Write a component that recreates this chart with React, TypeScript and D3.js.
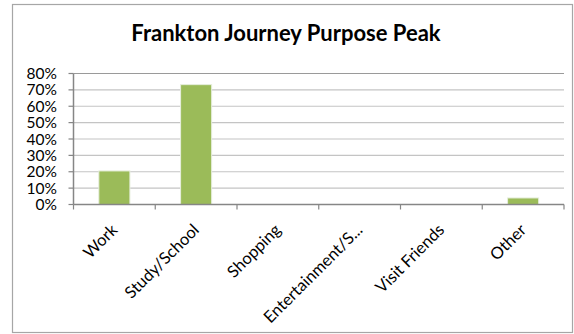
import React from "react";
import * as d3 from "d3";

const categories = ["Work", "Study/School", "Shopping", "Entertainment/S...", "Visit Friends", "Other"];
const values = [0.205, 0.732, 0, 0, 0, 0.04];
const yTicks = [0, 0.1, 0.2, 0.3, 0.4, 0.5, 0.6, 0.7, 0.8];
const title = "Frankton Journey Purpose Peak";

const W = 574;
const H = 334;
const FONT = "Lato, 'Open Sans', sans-serif";

export default function App() {
  const x = d3.scaleBand<string>().domain(categories).range([73.5, 564]).padding(0);
  const y = d3.scaleLinear().domain([0, 0.8]).range([204.5, 73.5]);
  const barW = x.step() * 0.38;
  const fmt = d3.format(".0%");
  const x0 = x.range()[0];
  const x1 = x.range()[1];

  return (
    <svg
      width={W}
      height={H}
      style={{ position: "absolute", left: 0, top: 0, background: "#fff" }}
      fontFamily={FONT}
    >
      <rect x={12.5} y={4.5} width={560} height={328} fill="#fff" stroke="#a6a6a6" strokeWidth={1.2} />
      <text x={286} y={41} textAnchor="middle" fontSize={22} fontWeight="bold" fill="#000">
        {title}
      </text>
      {yTicks.map((t) => (
        <g key={t}>
          {t > 0 && (
            <line x1={x0} x2={x1} y1={y(t)} y2={y(t)} stroke={t === 0.8 ? "#9a9a9a" : "#c4c4c4"} strokeWidth={1.2} />
          )}
          <line x1={x0 - 5} x2={x0} y1={y(t)} y2={y(t)} stroke="#868686" strokeWidth={1.2} />
          <text x={57} y={y(t)} dy="0.36em" textAnchor="end" fontSize={15.5} fill="#000">
            {fmt(t)}
          </text>
        </g>
      ))}
      {categories.map((c, i) => (
        <rect
          key={c}
          x={(x(c) as number) + x.step() / 2 - barW / 2}
          y={y(values[i])}
          width={barW}
          height={y(0) - y(values[i])}
          fill="#9bbb59"
          stroke="#e6eedd"
          strokeWidth={1}
        />
      ))}
      <line x1={x0} x2={x0} y1={y(0.8)} y2={y(0)} stroke="#868686" strokeWidth={1.5} />
      <line x1={x0} x2={x1} y1={y(0)} y2={y(0)} stroke="#868686" strokeWidth={1.5} />
      {categories.map((c, i) => (
        <line key={c} x1={x0 + x.step() * i} x2={x0 + x.step() * i} y1={y(0)} y2={y(0) + 5} stroke="#868686" strokeWidth={1.2} />
      ))}
      <line x1={x1} x2={x1} y1={y(0)} y2={y(0) + 5} stroke="#868686" strokeWidth={1.2} />
      {categories.map((c) => {
        const cx = (x(c) as number) + x.step() / 2 + 4;
        const cy = 231;
        return (
          <text
            key={c}
            x={cx}
            y={cy}
            textAnchor="end"
            fontSize={16.5}
            fill="#000"
            transform={`rotate(-45 ${cx} ${cy})`}
          >
            {c}
          </text>
        );
      })}
    </svg>
  );
}
